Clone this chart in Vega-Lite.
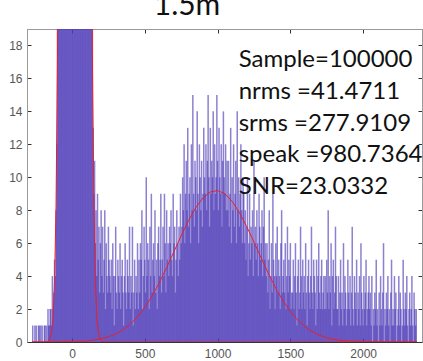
{
"$schema": "https://vega.github.io/schema/vega-lite/v6.json",
"width": 395, "height": 313,
"autosize": {"type": "none"},
"padding": {"left": 27, "top": 29, "right": 1, "bottom": 19},
"background": "white",
"config": {
 "view": {"stroke": "#9a9a9a", "strokeWidth": 1},
 "axis": {"grid": false, "labelFont": "Liberation Sans", "labelFontSize": 12, "labelColor": "#555555", "tickColor": "#333333", "domainColor": "#9a9a9a", "tickSize": -4, "title": null}
},
"datasets": {
"hist": [
{"x":-275,"n":0},{"x":-270,"n":1},{"x":-265,"n":0},{"x":-260,"n":0},{"x":-255,"n":1},{"x":-250,"n":0},{"x":-245,"n":1},{"x":-240,"n":0},{"x":-235,"n":0},{"x":-230,"n":1},{"x":-225,"n":1},{"x":-220,"n":0},{"x":-215,"n":1},{"x":-210,"n":0},{"x":-205,"n":1},{"x":-200,"n":0},{"x":-195,"n":0},{"x":-190,"n":1},{"x":-185,"n":1},{"x":-180,"n":0},
{"x":-175,"n":1},{"x":-170,"n":0},{"x":-165,"n":2},{"x":-160,"n":1},{"x":-155,"n":1},{"x":-150,"n":2},
{"x":-145,"n":2},{"x":-140,"n":1},{"x":-135,"n":4},{"x":-130,"n":2},
{"x":-125,"n":3},{"x":-120,"n":5},{"x":-115,"n":4},{"x":-110,"n":8},
{"x":-105,"n":12},{"x":-100,"n":21},
{"x":-95,"n":26},{"x":-90,"n":31},{"x":-85,"n":49},{"x":-80,"n":61},{"x":-75,"n":88},{"x":-70,"n":109},{"x":-65,"n":151},{"x":-60,"n":180},{"x":-55,"n":241},{"x":-50,"n":286},{"x":-45,"n":362},{"x":-40,"n":421},{"x":-35,"n":515},{"x":-30,"n":588},{"x":-25,"n":692},{"x":-20,"n":770},{"x":-15,"n":875},{"x":-10,"n":949},{"x":-5,"n":1045},{"x":0,"n":1102},{"x":5,"n":1177},{"x":10,"n":1206},{"x":15,"n":1248},{"x":20,"n":1243},{"x":25,"n":1236},{"x":30,"n":1220},{"x":35,"n":1161},{"x":40,"n":1117},{"x":45,"n":1030},{"x":50,"n":962},{"x":55,"n":861},{"x":60,"n":784},{"x":65,"n":679},{"x":70,"n":601},{"x":75,"n":502},{"x":80,"n":433},{"x":85,"n":349},{"x":90,"n":296},{"x":95,"n":229},{"x":100,"n":191},{"x":105,"n":141},{"x":110,"n":116},{"x":115,"n":82},{"x":120,"n":67},{"x":125,"n":44},{"x":130,"n":36},{"x":135,"n":23},{"x":140,"n":20},
{"x":145,"n":13},{"x":150,"n":9},{"x":155,"n":11},{"x":160,"n":6},{"x":165,"n":8},{"x":170,"n":4},{"x":175,"n":9},{"x":180,"n":5},{"x":185,"n":7},{"x":190,"n":3},{"x":195,"n":6},{"x":200,"n":8},
{"x":205,"n":4},{"x":210,"n":7},{"x":215,"n":3},{"x":220,"n":5},{"x":225,"n":8},{"x":230,"n":2},{"x":235,"n":6},{"x":240,"n":4},{"x":245,"n":3},{"x":250,"n":7},{"x":255,"n":5},{"x":260,"n":4},
{"x":265,"n":3},{"x":270,"n":5},{"x":275,"n":2},{"x":280,"n":6},{"x":285,"n":4},{"x":290,"n":1},{"x":295,"n":4},{"x":300,"n":7},{"x":305,"n":3},{"x":310,"n":2},{"x":315,"n":5},{"x":320,"n":4},{"x":325,"n":3},{"x":330,"n":6},{"x":335,"n":2},{"x":340,"n":4},{"x":345,"n":5},{"x":350,"n":3},{"x":355,"n":1},{"x":360,"n":4},{"x":365,"n":6},{"x":370,"n":3},{"x":375,"n":2},{"x":380,"n":5},{"x":385,"n":4},{"x":390,"n":3},{"x":395,"n":7},
{"x":400,"n":2},{"x":405,"n":4},{"x":410,"n":3},{"x":415,"n":7},{"x":420,"n":1},{"x":425,"n":3},{"x":430,"n":5},{"x":435,"n":2},{"x":440,"n":4},{"x":445,"n":3},{"x":450,"n":6},{"x":455,"n":2},{"x":460,"n":5},
{"x":465,"n":3},{"x":470,"n":6},{"x":475,"n":5},{"x":480,"n":8},{"x":485,"n":2},{"x":490,"n":4},{"x":495,"n":7},{"x":500,"n":5},{"x":505,"n":3},{"x":510,"n":10},{"x":515,"n":4},{"x":520,"n":6},{"x":525,"n":5},{"x":530,"n":2},{"x":535,"n":7},{"x":540,"n":4},{"x":545,"n":9},{"x":550,"n":3},{"x":555,"n":5},{"x":560,"n":6},{"x":565,"n":4},{"x":570,"n":8},{"x":575,"n":3},{"x":580,"n":5},{"x":585,"n":2},{"x":590,"n":6},{"x":595,"n":7},{"x":600,"n":4},{"x":605,"n":5},{"x":610,"n":9},{"x":615,"n":3},
{"x":620,"n":5},{"x":625,"n":7},{"x":630,"n":4},{"x":635,"n":9},{"x":640,"n":6},{"x":645,"n":3},{"x":650,"n":8},{"x":655,"n":5},{"x":660,"n":6},{"x":665,"n":4},{"x":670,"n":7},{"x":675,"n":6},{"x":680,"n":8},{"x":685,"n":5},{"x":690,"n":4},{"x":695,"n":9},{"x":700,"n":6},{"x":705,"n":7},{"x":710,"n":3},{"x":715,"n":5},{"x":720,"n":8},{"x":725,"n":6},{"x":730,"n":4},{"x":735,"n":7},{"x":740,"n":5},{"x":745,"n":9},{"x":750,"n":6},
{"x":755,"n":7},{"x":760,"n":10},{"x":765,"n":8},{"x":770,"n":12},{"x":775,"n":6},{"x":780,"n":9},{"x":785,"n":11},{"x":790,"n":8},{"x":795,"n":13},{"x":800,"n":7},{"x":805,"n":9},{"x":810,"n":10},{"x":815,"n":6},{"x":820,"n":12},{"x":825,"n":8},{"x":830,"n":15},{"x":835,"n":9},{"x":840,"n":7},{"x":845,"n":11},{"x":850,"n":10},{"x":855,"n":8},{"x":860,"n":14},{"x":865,"n":9},{"x":870,"n":6},{"x":875,"n":12},{"x":880,"n":10},{"x":885,"n":8},{"x":890,"n":11},{"x":895,"n":7},{"x":900,"n":9},{"x":905,"n":13},{"x":910,"n":10},
{"x":915,"n":9},{"x":920,"n":12},{"x":925,"n":8},{"x":930,"n":11},{"x":935,"n":15},{"x":940,"n":10},{"x":945,"n":7},{"x":950,"n":13},{"x":955,"n":9},{"x":960,"n":11},{"x":965,"n":10},{"x":970,"n":14},{"x":975,"n":8},{"x":980,"n":12},{"x":985,"n":9},{"x":990,"n":10},{"x":995,"n":15},{"x":1000,"n":11},{"x":1005,"n":8},{"x":1010,"n":13},{"x":1015,"n":10},{"x":1020,"n":9},{"x":1025,"n":12},{"x":1030,"n":7},{"x":1035,"n":11},{"x":1040,"n":14},{"x":1045,"n":10},{"x":1050,"n":9},{"x":1055,"n":12},{"x":1060,"n":8},{"x":1065,"n":11},
{"x":1070,"n":8},{"x":1075,"n":11},{"x":1080,"n":7},{"x":1085,"n":9},{"x":1090,"n":13},{"x":1095,"n":6},{"x":1100,"n":10},{"x":1105,"n":8},{"x":1110,"n":12},{"x":1115,"n":7},{"x":1120,"n":9},{"x":1125,"n":11},{"x":1130,"n":6},{"x":1135,"n":14},{"x":1140,"n":8},{"x":1145,"n":10},{"x":1150,"n":7},{"x":1155,"n":9},{"x":1160,"n":12},{"x":1165,"n":8},{"x":1170,"n":6},{"x":1175,"n":10},{"x":1180,"n":9},
{"x":1185,"n":6},{"x":1190,"n":8},{"x":1195,"n":5},{"x":1200,"n":7},{"x":1205,"n":10},{"x":1210,"n":4},{"x":1215,"n":6},{"x":1220,"n":9},{"x":1225,"n":5},{"x":1230,"n":7},{"x":1235,"n":6},{"x":1240,"n":8},{"x":1245,"n":4},{"x":1250,"n":11},{"x":1255,"n":6},{"x":1260,"n":7},{"x":1265,"n":5},{"x":1270,"n":8},{"x":1275,"n":6},{"x":1280,"n":4},{"x":1285,"n":9},{"x":1290,"n":7},{"x":1295,"n":5},{"x":1300,"n":6},{"x":1305,"n":8},{"x":1310,"n":4},{"x":1315,"n":7},{"x":1320,"n":10},{"x":1325,"n":5},{"x":1330,"n":6},
{"x":1335,"n":4},{"x":1340,"n":6},{"x":1345,"n":3},{"x":1350,"n":5},{"x":1355,"n":8},{"x":1360,"n":2},{"x":1365,"n":4},{"x":1370,"n":6},{"x":1375,"n":3},{"x":1380,"n":9},{"x":1385,"n":5},{"x":1390,"n":4},{"x":1395,"n":2},{"x":1400,"n":6},{"x":1405,"n":4},{"x":1410,"n":7},{"x":1415,"n":3},{"x":1420,"n":5},{"x":1425,"n":4},{"x":1430,"n":2},{"x":1435,"n":6},{"x":1440,"n":8},{"x":1445,"n":3},{"x":1450,"n":4},{"x":1455,"n":5},{"x":1460,"n":3},{"x":1465,"n":6},{"x":1470,"n":2},{"x":1475,"n":4},{"x":1480,"n":7},{"x":1485,"n":3},{"x":1490,"n":5},{"x":1495,"n":4},{"x":1500,"n":6},{"x":1505,"n":2},{"x":1510,"n":3},
{"x":1515,"n":3},{"x":1520,"n":5},{"x":1525,"n":2},{"x":1530,"n":4},{"x":1535,"n":6},{"x":1540,"n":3},{"x":1545,"n":1},{"x":1550,"n":4},{"x":1555,"n":5},{"x":1560,"n":2},{"x":1565,"n":3},{"x":1570,"n":7},{"x":1575,"n":4},{"x":1580,"n":2},{"x":1585,"n":5},{"x":1590,"n":3},{"x":1595,"n":4},{"x":1600,"n":2},{"x":1605,"n":6},{"x":1610,"n":3},{"x":1615,"n":1},{"x":1620,"n":4},{"x":1625,"n":5},{"x":1630,"n":3},{"x":1635,"n":2},{"x":1640,"n":4},{"x":1645,"n":7},{"x":1650,"n":3},{"x":1655,"n":2},{"x":1660,"n":5},{"x":1665,"n":4},{"x":1670,"n":3},{"x":1675,"n":1},{"x":1680,"n":5},{"x":1685,"n":2},{"x":1690,"n":4},{"x":1695,"n":6},{"x":1700,"n":3},{"x":1705,"n":2},{"x":1710,"n":4},{"x":1715,"n":5},{"x":1720,"n":2},{"x":1725,"n":3},{"x":1730,"n":4},{"x":1735,"n":2},
{"x":1740,"n":4},{"x":1745,"n":2},{"x":1750,"n":5},{"x":1755,"n":3},{"x":1760,"n":8},{"x":1765,"n":2},{"x":1770,"n":4},{"x":1775,"n":3},{"x":1780,"n":6},{"x":1785,"n":1},{"x":1790,"n":4},{"x":1795,"n":5},{"x":1800,"n":2},{"x":1805,"n":3},{"x":1810,"n":7},{"x":1815,"n":4},{"x":1820,"n":2},
{"x":1825,"n":2},{"x":1830,"n":4},{"x":1835,"n":1},{"x":1840,"n":3},{"x":1845,"n":5},{"x":1850,"n":2},{"x":1855,"n":3},{"x":1860,"n":1},{"x":1865,"n":6},{"x":1870,"n":2},{"x":1875,"n":4},{"x":1880,"n":3},{"x":1885,"n":1},{"x":1890,"n":2},{"x":1895,"n":5},{"x":1900,"n":3},{"x":1905,"n":2},{"x":1910,"n":4},{"x":1915,"n":1},{"x":1920,"n":3},{"x":1925,"n":7},{"x":1930,"n":2},{"x":1935,"n":1},{"x":1940,"n":4},{"x":1945,"n":3},{"x":1950,"n":2},{"x":1955,"n":5},{"x":1960,"n":1},{"x":1965,"n":3},{"x":1970,"n":2},{"x":1975,"n":4},{"x":1980,"n":1},{"x":1985,"n":6},{"x":1990,"n":3},{"x":1995,"n":2},{"x":2000,"n":1},{"x":2005,"n":4},{"x":2010,"n":2},{"x":2015,"n":3},{"x":2020,"n":5},{"x":2025,"n":1},{"x":2030,"n":2},{"x":2035,"n":3},{"x":2040,"n":4},
{"x":2045,"n":2},{"x":2050,"n":3},{"x":2055,"n":1},{"x":2060,"n":4},{"x":2065,"n":0},{"x":2070,"n":2},{"x":2075,"n":1},{"x":2080,"n":3},{"x":2085,"n":2},{"x":2090,"n":5},{"x":2095,"n":1},{"x":2100,"n":2},{"x":2105,"n":0},{"x":2110,"n":3},{"x":2115,"n":1},{"x":2120,"n":4},{"x":2125,"n":2},{"x":2130,"n":1},{"x":2135,"n":3},{"x":2140,"n":6},{"x":2145,"n":0},{"x":2150,"n":2},{"x":2155,"n":1},{"x":2160,"n":3},{"x":2165,"n":2},{"x":2170,"n":4},{"x":2175,"n":1},{"x":2180,"n":2},{"x":2185,"n":0},{"x":2190,"n":3},{"x":2195,"n":5},{"x":2200,"n":1},{"x":2205,"n":2},{"x":2210,"n":1},{"x":2215,"n":4},{"x":2220,"n":2},{"x":2225,"n":3},{"x":2230,"n":0},{"x":2235,"n":1},{"x":2240,"n":2},{"x":2245,"n":4},{"x":2250,"n":1},{"x":2255,"n":3},{"x":2260,"n":2},{"x":2265,"n":0},{"x":2270,"n":1},{"x":2275,"n":5},{"x":2280,"n":2},{"x":2285,"n":1},{"x":2290,"n":3},{"x":2295,"n":2},{"x":2300,"n":4},{"x":2305,"n":1},{"x":2310,"n":0},{"x":2315,"n":2},{"x":2320,"n":3},{"x":2325,"n":1},{"x":2330,"n":2},{"x":2335,"n":4},{"x":2340,"n":1},{"x":2345,"n":0},{"x":2350,"n":3},{"x":2355,"n":2},{"x":2360,"n":1},{"x":2365,"n":2}
],
"fit": [
{"curve":"noise","x":-275,"y":0},{"curve":"noise","x":-200,"y":0},{"curve":"noise","x":-180,"y":0.01},{"curve":"noise","x":-170,"y":0.03},{"curve":"noise","x":-160,"y":0.08},{"curve":"noise","x":-150,"y":0.23},{"curve":"noise","x":-140,"y":0.62},{"curve":"noise","x":-130,"y":1.55},{"curve":"noise","x":-120,"y":3.7},{"curve":"noise","x":-110,"y":8.2},{"curve":"noise","x":-100,"y":17.2},{"curve":"noise","x":-90,"y":34},{"curve":"noise","x":-80,"y":64},{"curve":"noise","x":-60,"y":186},{"curve":"noise","x":20,"y":1250},{"curve":"noise","x":100,"y":186},{"curve":"noise","x":120,"y":64},{"curve":"noise","x":130,"y":34},{"curve":"noise","x":140,"y":17.2},{"curve":"noise","x":150,"y":8.2},{"curve":"noise","x":160,"y":3.7},{"curve":"noise","x":170,"y":1.55},{"curve":"noise","x":180,"y":0.62},{"curve":"noise","x":190,"y":0.23},{"curve":"noise","x":200,"y":0.08},{"curve":"noise","x":210,"y":0.03},{"curve":"noise","x":220,"y":0.01},{"curve":"noise","x":250,"y":0},{"curve":"noise","x":2370,"y":0},
{"curve":"signal","x":-275,"y":0},{"curve":"signal","x":100,"y":0.05},{"curve":"signal","x":150,"y":0.12},{"curve":"signal","x":200,"y":0.2},{"curve":"signal","x":250,"y":0.32},{"curve":"signal","x":300,"y":0.49},{"curve":"signal","x":350,"y":0.74},{"curve":"signal","x":400,"y":1.08},{"curve":"signal","x":450,"y":1.53},{"curve":"signal","x":500,"y":2.1},{"curve":"signal","x":550,"y":2.79},{"curve":"signal","x":600,"y":3.61},{"curve":"signal","x":650,"y":4.52},{"curve":"signal","x":700,"y":5.48},{"curve":"signal","x":750,"y":6.45},{"curve":"signal","x":800,"y":7.37},{"curve":"signal","x":850,"y":8.15},{"curve":"signal","x":900,"y":8.75},{"curve":"signal","x":950,"y":9.11},{"curve":"signal","x":1000,"y":9.19},{"curve":"signal","x":1050,"y":9.0},{"curve":"signal","x":1100,"y":8.54},{"curve":"signal","x":1150,"y":7.86},{"curve":"signal","x":1200,"y":7.01},{"curve":"signal","x":1250,"y":6.07},{"curve":"signal","x":1300,"y":5.09},{"curve":"signal","x":1350,"y":4.14},{"curve":"signal","x":1400,"y":3.27},{"curve":"signal","x":1450,"y":2.5},{"curve":"signal","x":1500,"y":1.86},{"curve":"signal","x":1550,"y":1.34},{"curve":"signal","x":1600,"y":0.93},{"curve":"signal","x":1650,"y":0.63},{"curve":"signal","x":1700,"y":0.41},{"curve":"signal","x":1750,"y":0.26},{"curve":"signal","x":1800,"y":0.16},{"curve":"signal","x":1850,"y":0.1},{"curve":"signal","x":1900,"y":0.06},{"curve":"signal","x":2000,"y":0.02},{"curve":"signal","x":2370,"y":0}
],
"notes": [
{"lines": ["Sample=100000", "nrms =41.4711", "srms =277.9109", "speak =980.7364", "SNR=23.0332"]}
],
"heading": [
{"title": "1.5m"}
]
},
"layer": [
{"data": {"name": "hist"},
 "mark": {"type": "bar", "width": 1.5, "color": "#4f3cb8", "opacity": 0.65, "clip": true},
 "encoding": {
  "x": {"field": "x", "type": "quantitative", "scale": {"domain": [-275, 2370], "nice": false, "zero": false}, "axis": {"values": [0, 500, 1000, 1500, 2000], "format": "d", "labelPadding": 10, "domainColor": "#333333"}},
  "y": {"field": "n", "type": "quantitative", "scale": {"domain": [0, 19], "nice": false}, "axis": {"values": [0, 2, 4, 6, 8, 10, 12, 14, 16, 18], "labelPadding": 9}}
 }},
{"data": {"name": "fit"},
 "mark": {"type": "line", "color": "#e8202a", "strokeWidth": 1, "clip": true},
 "encoding": {
  "x": {"field": "x", "type": "quantitative", "axis": {"orient": "top", "labels": false, "values": [0, 500, 1000, 1500, 2000]}},
  "y": {"field": "y", "type": "quantitative", "axis": {"orient": "right", "labels": false, "values": [0, 2, 4, 6, 8, 10, 12, 14, 16, 18]}},
  "detail": {"field": "curve"},
  "order": {"field": "x"}
 }},
{"data": {"name": "notes"},
 "mark": {"type": "text", "align": "left", "baseline": "alphabetic", "font": "Lato", "fontSize": 24, "lineHeight": 31.6, "color": "#111111"},
 "encoding": {
  "x": {"datum": 1145, "type": "quantitative", "axis": null},
  "y": {"datum": 16.67, "type": "quantitative", "axis": null},
  "text": {"field": "lines"}
 }},
{"data": {"name": "heading"},
 "mark": {"type": "text", "align": "center", "baseline": "alphabetic", "font": "Lato", "fontSize": 30, "color": "#111111", "clip": false},
 "encoding": {
  "x": {"datum": 790, "type": "quantitative", "axis": null},
  "y": {"datum": 19.85, "type": "quantitative", "axis": null},
  "text": {"field": "title"}
 }}
],
"resolve": {"axis": {"x": "independent", "y": "independent"}}
}
